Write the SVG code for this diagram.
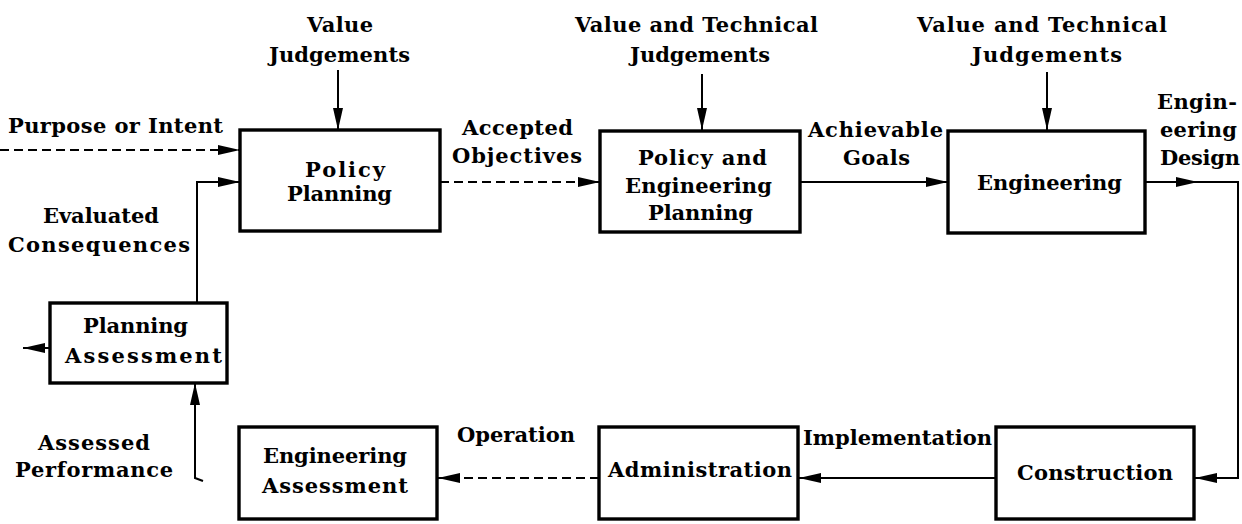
<svg xmlns="http://www.w3.org/2000/svg" width="1242" height="524" viewBox="0 0 1242 524">
<style>
.box{fill:#fff;stroke:#000;stroke-width:3.4}
.t{font-family:"DejaVu Serif","Liberation Serif",serif;font-weight:bold;font-size:21px;fill:#000}
.c{fill:none;stroke:#000;stroke-width:2}
.d{stroke-dasharray:9 5}
</style>
<defs>
<marker id="ah" markerUnits="userSpaceOnUse" markerWidth="24" markerHeight="14" refX="22" refY="7" orient="auto">
<path d="M0,2 L22,7 L0,12 Z" fill="#000"/>
</marker>
</defs>
<rect width="1242" height="524" fill="#fff"/>
<g id="connectors">
<path class="c d" d="M0,150 H240" marker-end="url(#ah)"/>
<path class="c" d="M197,303 V182 H240" marker-end="url(#ah)"/>
<path class="c" d="M338,70 V130" marker-end="url(#ah)"/>
<path class="c d" d="M440,182 H600" marker-end="url(#ah)"/>
<path class="c" d="M702,74 V130" marker-end="url(#ah)"/>
<path class="c" d="M800,182 H948" marker-end="url(#ah)"/>
<path class="c" d="M1047,72 V130" marker-end="url(#ah)"/>
<path class="c" d="M1145,182 H1198" marker-end="url(#ah)"/>
<path class="c" d="M1196,182 H1238 V478 H1195" marker-end="url(#ah)"/>
<path class="c" d="M996,478 H799" marker-end="url(#ah)"/>
<path class="c d" d="M599,478 H438" marker-end="url(#ah)"/>
<path class="c" d="M203,481 L195,478 V383" marker-end="url(#ah)"/>
<path class="c" d="M50,348 H23" marker-end="url(#ah)"/>
</g>
<g id="labels">
<text class="t" x="307" y="32" textLength="66">Value</text>
<text class="t" x="269" y="62" textLength="141">Judgements</text>
<text class="t" x="575" y="32" textLength="243">Value and Technical</text>
<text class="t" x="630" y="62" textLength="140">Judgements</text>
<text class="t" x="917" y="32" textLength="250">Value and Technical</text>
<text class="t" x="972" y="62" textLength="150">Judgements</text>
<text class="t" x="8" y="133" textLength="215">Purpose or Intent</text>
<text class="t" x="462" y="135" textLength="111">Accepted</text>
<text class="t" x="452" y="163" textLength="130">Objectives</text>
<text class="t" x="808" y="137" textLength="135">Achievable</text>
<text class="t" x="843" y="165" textLength="67">Goals</text>
<text class="t" x="1157" y="109" textLength="80">Engin-</text>
<text class="t" x="1160" y="137" textLength="77">eering</text>
<text class="t" x="1160" y="165" textLength="80">Design</text>
<text class="t" x="43" y="223" textLength="116">Evaluated</text>
<text class="t" x="8" y="252" textLength="182">Consequences</text>
<text class="t" x="38" y="450" textLength="112">Assessed</text>
<text class="t" x="15" y="477" textLength="158">Performance</text>
<text class="t" x="457" y="442" textLength="118">Operation</text>
<text class="t" x="803" y="445" textLength="189">Implementation</text>
</g>
<g id="policy-planning">
<rect class="box" x="240" y="130" width="200" height="101"/>
<text class="t" x="305" y="177" textLength="80">Policy</text>
<text class="t" x="287" y="201" textLength="105">Planning</text>
</g>
<g id="policy-engineering-planning">
<rect class="box" x="600" y="131" width="200" height="101"/>
<text class="t" x="638" y="165" textLength="129">Policy and</text>
<text class="t" x="625" y="193" textLength="147">Engineering</text>
<text class="t" x="648" y="220" textLength="105">Planning</text>
</g>
<g id="engineering">
<rect class="box" x="948" y="131" width="197" height="102"/>
<text class="t" x="977" y="190" textLength="145">Engineering</text>
</g>
<g id="planning-assessment">
<rect class="box" x="50" y="303" width="177" height="80"/>
<text class="t" x="83" y="333" textLength="105">Planning</text>
<text class="t" x="65" y="363" textLength="157">Assessment</text>
</g>
<g id="engineering-assessment">
<rect class="box" x="239" y="427" width="198" height="92"/>
<text class="t" x="263" y="463" textLength="144">Engineering</text>
<text class="t" x="262" y="493" textLength="146">Assessment</text>
</g>
<g id="administration">
<rect class="box" x="599" y="427" width="199" height="92"/>
<text class="t" x="608" y="477" textLength="184">Administration</text>
</g>
<g id="construction">
<rect class="box" x="996" y="427" width="198" height="92"/>
<text class="t" x="1017" y="480" textLength="156">Construction</text>
</g>
</svg>
